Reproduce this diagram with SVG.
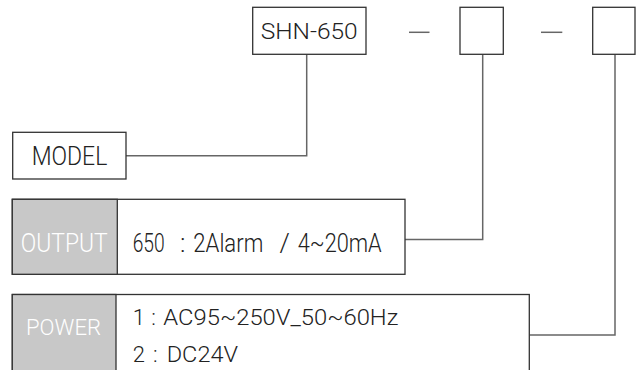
<svg xmlns="http://www.w3.org/2000/svg" width="637" height="370" viewBox="0 0 637 370">
<style>
.box{fill:#fff;stroke:#333;stroke-width:1.3}
.gray{fill:#c8c8c8;stroke:#333;stroke-width:1.3}
.conn{fill:none;stroke:#666;stroke-width:1.5}
.t{font-family:Roboto,"Liberation Sans",Arial,sans-serif;font-weight:300;fill:#222}
.w{font-family:Roboto,"Liberation Sans",Arial,sans-serif;font-weight:300;fill:#fff}
</style>
<rect width="637" height="370" fill="#fff"/>
<g id="connectors">
<polyline class="conn" points="126,155.7 306.7,155.7 306.7,54.3"/>
<polyline class="conn" points="405,239.5 482.7,239.5 482.7,54.3"/>
<polyline class="conn" points="529.3,335 615,335 615,54.3"/>
<line class="conn" x1="409" y1="32.3" x2="429.5" y2="32.3"/>
<line class="conn" x1="541" y1="32.3" x2="562.3" y2="32.3"/>
</g>
<g id="model-code">
<rect class="box" x="252.7" y="7.3" width="113.3" height="47"/>
<text class="t" x="260.7" y="39" font-size="21.5" textLength="97" lengthAdjust="spacingAndGlyphs">SHN-650</text>
</g>
<g id="box-output-code">
<rect class="box" x="460" y="7.3" width="43.3" height="47"/>
</g>
<g id="box-power-code">
<rect class="box" x="592.7" y="7.3" width="42.3" height="47"/>
</g>
<g id="model">
<rect class="box" x="12.7" y="132.3" width="113.3" height="46.7"/>
<text class="t" x="31.7" y="165" font-size="25" textLength="75.6" lengthAdjust="spacingAndGlyphs">MODEL</text>
</g>
<g id="output">
<rect class="box" x="12.3" y="199.3" width="392.7" height="75"/>
<rect class="gray" x="12.3" y="199.3" width="105" height="75"/>
<text class="w" x="20.7" y="252.3" font-size="25" textLength="87" lengthAdjust="spacingAndGlyphs">OUTPUT</text>
<text class="t" y="251.7" font-size="26"><tspan x="132.7" textLength="32" lengthAdjust="spacingAndGlyphs">650</tspan> <tspan x="180">:</tspan> <tspan x="193.3" textLength="70" lengthAdjust="spacingAndGlyphs">2Alarm</tspan> <tspan x="279.5">/</tspan> <tspan x="297.7" textLength="84" lengthAdjust="spacingAndGlyphs">4~20mA</tspan></text>
</g>
<g id="power">
<rect class="box" x="12.3" y="294.5" width="517" height="90"/>
<rect class="gray" x="12.3" y="294.5" width="103.7" height="90"/>
<text class="w" x="26" y="335" font-size="22" textLength="75" lengthAdjust="spacingAndGlyphs">POWER</text>
<text class="t" y="325.3" font-size="22"><tspan x="132.7">1</tspan> <tspan x="151.3">:</tspan> <tspan x="163.3" textLength="235" lengthAdjust="spacingAndGlyphs">AC95~250V_50~60Hz</tspan></text>
<text class="t" y="362" font-size="22"><tspan x="132.7">2</tspan> <tspan x="153">:</tspan> <tspan x="166.7" textLength="71.3" lengthAdjust="spacingAndGlyphs">DC24V</tspan></text>
</g>
</svg>
